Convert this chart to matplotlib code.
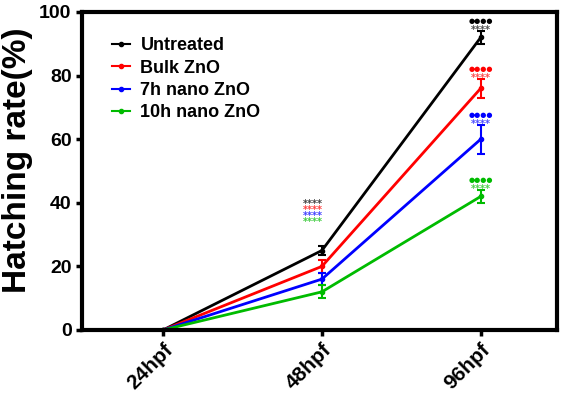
import matplotlib
matplotlib.use("Agg")
import matplotlib.pyplot as plt
from matplotlib.lines import Line2D

stages = ["24hpf", "48hpf", "96hpf"]
groups = ["Untreated", "Bulk ZnO", "7h nano ZnO", "10h nano ZnO"]
colors = ["black", "#ff0000", "#0000ff", "#00bb00"]
means = [
    [0, 25, 92],
    [0, 20, 76],
    [0, 16, 60],
    [0, 12, 42],
]
errs = [
    [0, 1.5, 2],
    [0, 2, 3],
    [0, 2, 4.5],
    [0, 2, 2],
]
sig_48 = "****"
sig_96_dots = "\u25cf\u25cf\u25cf\u25cf"
sig_96_stars = "****"

plt.rcParams["font.family"] = ["Liberation Sans", "DejaVu Sans"]
plt.rcParams["font.weight"] = "bold"

fig = plt.figure(figsize=(5.66, 3.94), dpi=100)
ax = fig.add_axes([82 / 566, 64 / 394, 475 / 566, 318 / 394])

x = list(range(len(stages)))
for g, c, m, e in zip(groups, colors, means, errs):
    ax.errorbar(x, m, yerr=e, color=c, lw=2, marker="o", ms=3,
                capsize=3, capthick=1.5, elinewidth=1.5, label=g)

# significance marks (offsets in pixels above the anchor point)
for i, c in enumerate(colors):
    ax.annotate(sig_48, (0.94, 38.8 - i * 1.9), color=c, fontsize=7, ha="center",
                va="baseline", family="DejaVu Sans", alpha=0.75)
    top = means[i][2] + errs[i][2]
    ax.annotate(sig_96_stars, (2, top), xytext=(0, -2), textcoords="offset pixels",
                color=c, fontsize=7, ha="center", va="baseline",
                family="DejaVu Sans", alpha=0.7)
    ax.annotate(sig_96_dots, (2, top), xytext=(0, 8), textcoords="offset pixels",
                color=c, fontsize=5, ha="center", va="baseline",
                family="DejaVu Sans")

ax.set_xlim(-0.51, 2.48)
ax.set_ylim(0, 100)
ax.set_yticks([0, 20, 40, 60, 80, 100])
ax.set_xticks(x)
ax.set_xticklabels(stages, rotation=45, ha="right", rotation_mode="anchor")
ax.tick_params(axis="both", labelsize=14, width=2.5, length=4)
ax.tick_params(axis="x", labelsize=15)
ax.set_ylabel("Hatching rate(%)", fontsize=24, fontweight="bold")
ax.yaxis.set_label_coords(-0.103, 0.535)
for s in ax.spines.values():
    s.set_linewidth(3)

handles = [Line2D([], [], color=c, lw=1.5, marker="o", ms=3) for c in colors]
ax.legend(handles, groups, loc="upper left", frameon=False, handlelength=1.0,
          handletextpad=0.6, labelspacing=0.3, bbox_to_anchor=(0.028, 0.972),
          prop={"weight": "bold", "size": 13})

fig.savefig("out.png", dpi=100)
